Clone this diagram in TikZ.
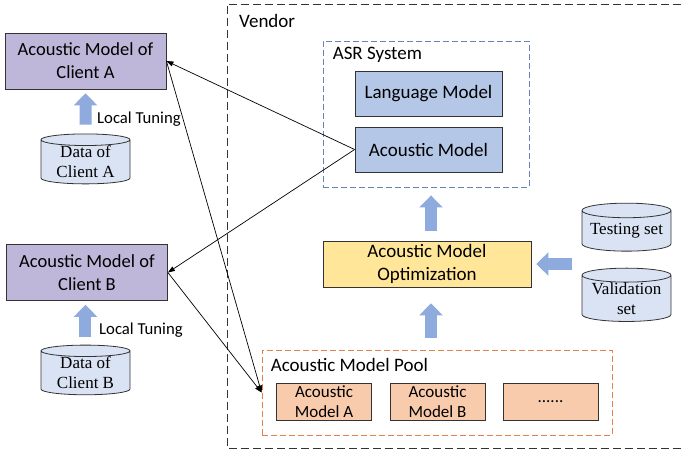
\documentclass[tikz,border=0pt]{standalone}
\usepackage{fontspec}
\setmainfont{Carlito}
\newfontfamily\cylfont{Liberation Serif}
\usetikzlibrary{shapes.geometric,arrows.meta}
\definecolor{clientpurple}{RGB}{191,183,218}
\definecolor{asrblue}{RGB}{180,199,231}
\definecolor{datablue}{RGB}{218,227,243}
\definecolor{fatblue}{RGB}{143,170,220}
\definecolor{optyellow}{RGB}{255,230,153}
\definecolor{poolorange}{RGB}{248,203,173}
\definecolor{pooldash}{RGB}{225,130,75}
\definecolor{asrdash}{RGB}{100,130,190}

\begin{document}
\begin{tikzpicture}[x=1pt,y=-1pt,
    box/.style={draw=black!80,line width=0.8pt,align=center,inner sep=0pt,font=\fontsize{19}{23}\selectfont},
    client/.style={box,fill=clientpurple,minimum width=161pt,minimum height=56pt,font=\fontsize{18.5}{23}\selectfont},
    model/.style={box,fill=asrblue,minimum width=147pt,minimum height=45pt},
    small/.style={box,fill=poolorange,minimum width=95pt,minimum height=37pt,font=\fontsize{17}{20}\selectfont},
    data/.style={cylinder,shape border rotate=90,aspect=0.2,draw=black!80,line width=0.8pt,fill=datablue,
      inner sep=0pt,minimum width=89pt,minimum height=48pt,align=center,font={\cylfont\fontsize{17}{20}\selectfont}},
    lbl/.style={anchor=west,inner sep=0pt,font=\fontsize{19}{23}\selectfont},
    conn/.style={line width=0.7pt,-{Triangle[length=7pt,width=5pt]}},
    fat/.style={fatblue,line width=12pt,-{Triangle[length=12pt,width=23pt]}}]
  \useasboundingbox (0,0) rectangle (681,454);
  % vendor side
  \draw[black!80,line width=0.8pt,dash pattern=on 8pt off 4pt] (681,4) -- (227,4) -- (227,448) -- (681,448);
  \node[lbl] (vendor) at (239,21) {Vendor};
  \node[draw=asrdash,line width=0.9pt,dash pattern=on 6pt off 3pt,minimum width=206pt,minimum height=146pt] (asr) at (426,114) {};
  \node[lbl,xshift=10pt,yshift=-14pt] (asrlbl) at (asr.north west) {ASR System};
  \node[model] (lang) at (428.5,93.5) {Language Model};
  \node[model] (acou) at (428.5,149.5) {Acoustic Model};
  \node[box,fill=optyellow,minimum width=208pt,minimum height=46pt] (opt) at (427,264) {Acoustic Model\\Optimization};
  \node[data] (test) at (626.5,231) {Testing set};
  \node[data] (valid) at (626.5,298.5) {Validation\\set};
  \node[draw=pooldash,line width=0.9pt,dash pattern=on 6pt off 3pt,minimum width=350pt,minimum height=85pt] (pool) at (437,392.5) {};
  \node[lbl,xshift=9pt,yshift=-15pt] (poollbl) at (pool.north west) {Acoustic Model Pool};
  \node[small] (mA) at (324,401.5) {Acoustic\\Model A};
  \node[small] (mB) at (437.5,401.5) {Acoustic\\Model B};
  \node[small] (mC) at (550.5,401.5) {......};
  % client side
  \node[client] (cliA) at (85.5,61) {Acoustic Model of\\Client A};
  \node[data] (dataA) at (85.5,162) {Data of\\Client A};
  \node[lbl,font=\fontsize{16.7}{19}\selectfont] (tuneA) at (97,119) {Local Tuning};
  \node[client] (cliB) at (87,272.5) {Acoustic Model of\\Client B};
  \node[data] (dataB) at (85.5,373) {Data of\\Client B};
  \node[lbl,font=\fontsize{16.7}{19}\selectfont] (tuneB) at (99,330) {Local Tuning};
  % fat arrows
  \coordinate (optup) at ([xshift=4pt]opt.north);
  \coordinate (poolup) at ([xshift=-6pt]pool.north);
  \draw[fat,shorten <=9pt,shorten >=4pt] (dataA.north) -- (cliA.south);
  \draw[fat,shorten <=8pt,shorten >=4pt] (dataB.north) -- (dataB.north |- cliB.south);
  \draw[fat,shorten <=10pt,shorten >=8pt] (optup) -- (optup |- asr.south);
  \draw[fat,shorten <=12pt,shorten >=16pt] (poolup) -- (poolup |- opt.south);
  \draw[fat,shorten <=10pt,shorten >=5pt] (opt.east -| test.west) -- (opt.east);
  % model exchange
  \draw[conn] (acou.west) -- (cliA.east);
  \draw[conn] (acou.west) -- (cliB.east);
  \draw[conn] (cliA.east) -- (pool.west);
  \draw[conn] (cliB.east) -- (pool.west);
\end{tikzpicture}
\end{document}
